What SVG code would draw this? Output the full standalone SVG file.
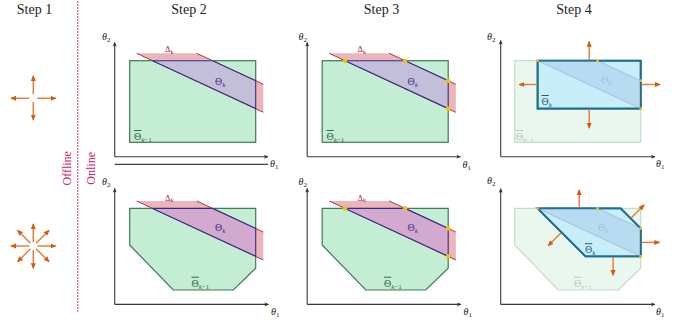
<svg xmlns="http://www.w3.org/2000/svg" width="681" height="324" viewBox="0 0 681 324">
<defs>
<marker id="ah" viewBox="0 0 10 10" refX="8.5" refY="5" markerWidth="6" markerHeight="6" orient="auto" markerUnits="userSpaceOnUse"><path d="M0,0.8 L10,5 L0,9.2 Z" fill="#d45a0c"/></marker>
<marker id="ax" viewBox="0 0 10 10" refX="9" refY="5" markerWidth="4.5" markerHeight="4.5" orient="auto" markerUnits="userSpaceOnUse"><path d="M0,0.5 L10,5 L0,9.5 L2.5,5 Z" fill="#333"/></marker>
</defs>
<style>
.t{font-family:"Liberation Serif","DejaVu Serif",serif}
.step{font-size:14px;fill:#222;text-anchor:middle}
.ax{stroke:#3a3a3a;stroke-width:1.1;fill:none;marker-end:url(#ax)}
.grn{fill:#c4eed4;stroke:#3d7a55;stroke-width:1.2}
.fgrn{fill:#eaf7ee;stroke:#c4dccc;stroke-width:1.2}
.red{fill:#ebb6ba;stroke:none}
.redl{stroke:#b5313f;stroke-width:1;fill:none}
.pur{fill:#c4bfd8;stroke:#3b2a8a;stroke-width:1.1}
.pur2{fill:#d3aacf;stroke:#3b2a8a;stroke-width:1.1}
.dot{fill:#f5c000}
.blue{fill:#c8eef9;stroke:#1d6f8c;stroke-width:1.8}
.para{fill:#b7dcf2;stroke:#a0b4dc;stroke-width:0.8}
.ar{stroke:#e27a35;stroke-width:1.4;fill:none;marker-end:url(#ah)}
.th{font-size:10px;fill:#222;font-style:italic}
.sub{font-size:7px;font-style:normal}
.dl{font-size:8.5px;fill:#a3283a}
.tk{font-size:10px;fill:#3d2e8c}
.tb{font-size:10px;fill:#2d6b45}
.ftk{font-size:10px;fill:#a9bdd9}
.ftb{font-size:10px;fill:#b5ccbd}
.btk{font-size:10px;fill:#1d5f7a}
.ov{text-decoration:overline}
.side{font-size:12px;fill:#c8266a;text-anchor:middle}
</style>

<g id="headers" class="t">
<text class="step t" x="34.5" y="14">Step 1</text>
<text class="step t" x="189" y="14">Step 2</text>
<text class="step t" x="381.5" y="14">Step 3</text>
<text class="step t" x="574" y="14">Step 4</text>
</g>

<g id="divider">
<line x1="77.7" y1="1" x2="77.7" y2="311.7" stroke="#cf5a8a" stroke-width="1.2" stroke-dasharray="2 1"/>
<text class="side t" transform="translate(70.5,168.3) rotate(-90)">Offline</text>
<text class="side t" transform="translate(95,168.3) rotate(-90)">Online</text>
</g>

<g id="step1-box">
<line class="ar" x1="33.3" y1="94.3" x2="33.3" y2="76"/>
<line class="ar" x1="33.3" y1="102.3" x2="33.3" y2="119.8"/>
<line class="ar" x1="29.3" y1="98.3" x2="11" y2="98.3"/>
<line class="ar" x1="37.3" y1="98.3" x2="55.7" y2="98.3"/>
</g>

<g id="step1-oct">
<line class="ar" x1="33.3" y1="242" x2="33.3" y2="224"/>
<line class="ar" x1="33.3" y1="250" x2="33.3" y2="268.3"/>
<line class="ar" x1="29.3" y1="246" x2="11" y2="246"/>
<line class="ar" x1="37.3" y1="246" x2="55.7" y2="246"/>
<line class="ar" x1="30.5" y1="243.2" x2="17.6" y2="230.3"/>
<line class="ar" x1="36.1" y1="243.2" x2="49" y2="230.3"/>
<line class="ar" x1="30.5" y1="248.8" x2="17.6" y2="261.7"/>
<line class="ar" x1="36.1" y1="248.8" x2="49" y2="261.7"/>
</g>

<!-- Step 2 top -->
<g id="s2-top">
<path class="ax" d="M114.7,156.7 V42.5"/>
<path class="ax" d="M114.7,156.7 H268"/>
<line x1="114.7" y1="164.3" x2="268" y2="164.3" stroke="#111" stroke-width="1"/>
<text class="th t" x="102" y="40">θ<tspan class="sub" dy="2">2</tspan></text>
<text class="th t" x="270" y="167">θ<tspan class="sub" dy="2">1</tspan></text>
<rect class="grn" x="129.7" y="60.7" width="126" height="81.6"/>
<path class="red" d="M136.7,53.3 H196.7 L263.3,84.3 V112.3 Z"/>
<path class="redl" d="M136.7,53.3 L263.3,112.3 M196.7,53.3 L263.3,84.3"/>
<path class="pur" d="M152.6,60.7 H212.6 L255.7,80.7 V108.6 Z"/>
<text class="dl t" x="165" y="52">Δ<tspan font-size="6" dy="1.5">k</tspan></text>
<text class="tk t" x="215" y="85">Θ<tspan font-size="7" font-style="italic" dy="2">k</tspan></text>
<text class="tb t" x="134" y="140"><tspan class="ov">Θ</tspan><tspan font-size="7" font-style="italic" dy="2">k</tspan><tspan font-size="7" dy="0">−1</tspan></text>
</g>

<!-- Step 3 top -->
<g id="s3-top" transform="translate(192.5,0)">
<path class="ax" d="M114.7,156.7 V42.5"/>
<path class="ax" d="M114.7,156.7 H268"/>
<text class="th t" x="106" y="40">θ<tspan class="sub" dy="2">2</tspan></text>
<text class="th t" x="270" y="168">θ<tspan class="sub" dy="2">1</tspan></text>
<rect class="grn" x="129.7" y="60.7" width="126" height="81.6"/>
<path class="red" d="M136.7,53.3 H196.7 L263.3,84.3 V112.3 Z"/>
<path class="redl" d="M136.7,53.3 L263.3,112.3 M196.7,53.3 L263.3,84.3"/>
<path class="pur" d="M152.6,60.7 H212.6 L255.7,80.7 V108.6 Z"/>
<circle class="dot" cx="152.6" cy="60.7" r="2.3"/>
<circle class="dot" cx="212.6" cy="60.7" r="2.3"/>
<circle class="dot" cx="255.7" cy="80.7" r="2.3"/>
<circle class="dot" cx="255.7" cy="108.6" r="2.3"/>
<text class="dl t" x="165" y="52">Δ<tspan font-size="6" dy="1.5">k</tspan></text>
<text class="tk t" x="215" y="85">Θ<tspan font-size="7" font-style="italic" dy="2">k</tspan></text>
<text class="tb t" x="134" y="140"><tspan class="ov">Θ</tspan><tspan font-size="7" font-style="italic" dy="2">k</tspan><tspan font-size="7">−1</tspan></text>
</g>

<!-- Step 4 top -->
<g id="s4-top" transform="translate(385,0)">
<path class="ax" d="M115.7,156.7 V40.5"/>
<path class="ax" d="M115.7,156.7 H270"/>
<text class="th t" x="102" y="40">θ<tspan class="sub" dy="2">2</tspan></text>
<text class="th t" x="271" y="167">θ<tspan class="sub" dy="2">1</tspan></text>
<rect class="fgrn" x="129.7" y="60.7" width="126" height="81.6"/>
<rect class="blue" x="152.6" y="60.7" width="103.1" height="47.9"/>
<path class="para" d="M152.6,60.7 H212.6 L255.7,80.7 V108.6 Z"/>
<rect x="152.6" y="60.7" width="103.1" height="47.9" fill="none" stroke="#1d6f8c" stroke-width="1.8"/>
<circle class="dot" cx="152.6" cy="60.7" r="1.4"/>
<circle class="dot" cx="212.6" cy="60.7" r="1.4"/>
<circle class="dot" cx="255.7" cy="80.7" r="1.4"/>
<circle class="dot" cx="255.7" cy="108.6" r="1.4"/>
<line class="ar" x1="204.2" y1="60" x2="204.2" y2="41.7"/>
<line class="ar" x1="204.2" y1="109.4" x2="204.2" y2="128"/>
<line class="ar" x1="151.8" y1="84.5" x2="134.3" y2="84.5"/>
<line class="ar" x1="256.6" y1="84.5" x2="275" y2="84.5"/>
<text class="ftk t" x="216" y="83">Θ<tspan font-size="7" font-style="italic" dy="2">k</tspan></text>
<text class="btk t" x="156.5" y="105"><tspan class="ov">Θ</tspan><tspan font-size="7" font-style="italic" dy="2">k</tspan></text>
<text class="ftb t" x="131" y="140"><tspan class="ov">Θ</tspan><tspan font-size="7" font-style="italic" dy="2">k</tspan><tspan font-size="7">−1</tspan></text>
</g>

<!-- Step 2 bottom -->
<g id="s2-bot" transform="translate(0,147.7)">
<path class="ax" d="M114.7,156.7 V40.8"/>
<path class="ax" d="M114.7,156.7 H268.5"/>
<text class="th t" x="102" y="37">θ<tspan class="sub" dy="2">2</tspan></text>
<text class="th t" x="271" y="167">θ<tspan class="sub" dy="2">1</tspan></text>
<path class="grn" d="M129.7,60.7 H255.7 V120.6 L233.3,142.3 H173.3 L129.7,97.3 Z"/>
<path class="red" d="M136.7,53.3 H196.7 L263.3,84.3 V112.3 Z"/>
<path class="redl" d="M136.7,53.3 L263.3,112.3 M196.7,53.3 L263.3,84.3"/>
<path class="pur2" d="M152.6,60.7 H212.6 L255.7,80.7 V108.6 Z"/>
<text class="dl t" x="165" y="53">Δ<tspan font-size="6" dy="1.5">k</tspan></text>
<text class="tk t" x="215" y="83">Θ<tspan font-size="7" font-style="italic" dy="2">k</tspan></text>
<text class="tb t" x="191.5" y="139"><tspan class="ov">Θ</tspan><tspan font-size="7" font-style="italic" dy="2">k</tspan><tspan font-size="7">−1</tspan></text>
</g>

<!-- Step 3 bottom -->
<g id="s3-bot" transform="translate(192.5,147.7)">
<path class="ax" d="M114.7,156.7 V40.8"/>
<path class="ax" d="M114.7,156.7 H268.5"/>
<text class="th t" x="106" y="37">θ<tspan class="sub" dy="2">2</tspan></text>
<text class="th t" x="271" y="167">θ<tspan class="sub" dy="2">1</tspan></text>
<path class="grn" d="M129.7,60.7 H255.7 V120.6 L233.3,142.3 H173.3 L129.7,97.3 Z"/>
<path class="red" d="M136.7,53.3 H196.7 L263.3,84.3 V112.3 Z"/>
<path class="redl" d="M136.7,53.3 L263.3,112.3 M196.7,53.3 L263.3,84.3"/>
<path class="pur2" d="M152.6,60.7 H212.6 L255.7,80.7 V108.6 Z"/>
<circle class="dot" cx="152.6" cy="60.7" r="2.3"/>
<circle class="dot" cx="212.6" cy="60.7" r="2.3"/>
<circle class="dot" cx="255.7" cy="80.7" r="2.3"/>
<circle class="dot" cx="255.7" cy="108.6" r="2.3"/>
<text class="dl t" x="165" y="53">Δ<tspan font-size="6" dy="1.5">k</tspan></text>
<text class="tk t" x="215" y="83">Θ<tspan font-size="7" font-style="italic" dy="2">k</tspan></text>
<text class="tb t" x="191.5" y="139"><tspan class="ov">Θ</tspan><tspan font-size="7" font-style="italic" dy="2">k</tspan><tspan font-size="7">−1</tspan></text>
</g>

<!-- Step 4 bottom -->
<g id="s4-bot" transform="translate(385,147.7)">
<path class="ax" d="M115.7,156.7 V41"/>
<path class="ax" d="M115.7,156.7 H270"/>
<text class="th t" x="102" y="36">θ<tspan class="sub" dy="2">2</tspan></text>
<text class="th t" x="271" y="167">θ<tspan class="sub" dy="2">1</tspan></text>
<path class="fgrn" d="M129.7,60.7 H255.7 V120.6 L233.3,142.3 H173.3 L129.7,97.3 Z"/>
<path class="blue" d="M152.6,60.7 H235.7 L255.7,80.7 V108.6 H200.5 Z"/>
<path class="para" d="M152.6,60.7 H212.6 L255.7,80.7 V108.6 Z"/>
<path d="M152.6,60.7 H235.7 L255.7,80.7 V108.6 H200.5 Z" fill="none" stroke="#1d6f8c" stroke-width="1.8"/>
<circle class="dot" cx="152.6" cy="60.7" r="1.4"/>
<circle class="dot" cx="212.6" cy="60.7" r="1.4"/>
<circle class="dot" cx="255.7" cy="80.7" r="1.4"/>
<circle class="dot" cx="255.7" cy="108.6" r="1.4"/>
<line class="ar" x1="194.2" y1="60" x2="194.2" y2="42.3"/>
<line class="ar" x1="228.1" y1="109.4" x2="228.1" y2="127.5"/>
<line class="ar" x1="256.6" y1="94.7" x2="274.5" y2="94.7"/>
<line class="ar" x1="246.3" y1="70.1" x2="259.1" y2="57.3"/>
<line class="ar" x1="176" y1="85.2" x2="163.3" y2="97.9"/>
<text class="ftk t" x="213" y="83">Θ<tspan font-size="7" font-style="italic" dy="2">k</tspan></text>
<text class="btk t" x="200" y="105.5"><tspan class="ov">Θ</tspan><tspan font-size="7" font-style="italic" dy="2">k</tspan></text>
<text class="ftb t" x="189" y="139"><tspan class="ov">Θ</tspan><tspan font-size="7" font-style="italic" dy="2">k</tspan><tspan font-size="7">−1</tspan></text>
</g>
</svg>
